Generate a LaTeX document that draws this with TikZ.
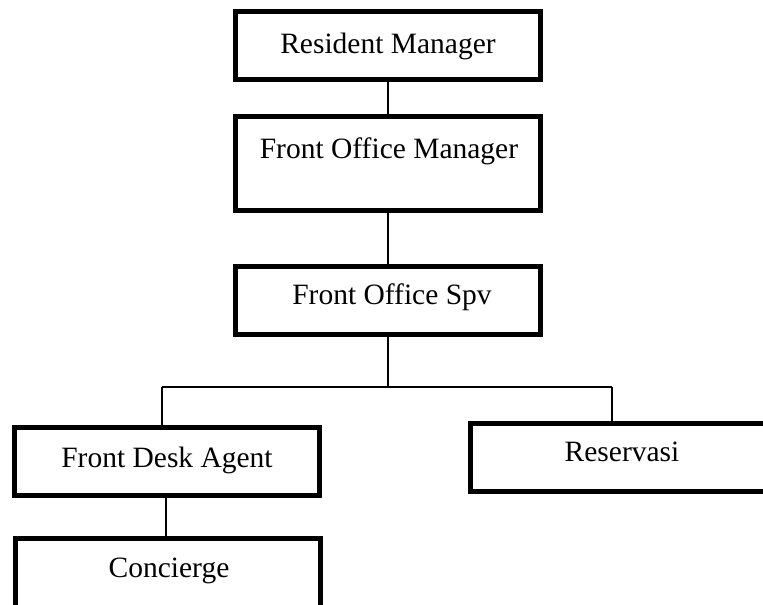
\documentclass[tikz,border=0pt]{standalone}
\usepackage{fontspec}
\setmainfont{Liberation Serif}
\begin{document}
\begin{tikzpicture}[x=1pt,y=-1pt,
  box/.style={draw,line width=5.5pt,minimum width=305pt,minimum height=68pt,inner sep=0pt},
  lbl/.style={inner sep=0pt,font=\fontsize{29.5}{35}\selectfont,anchor=base},
  conn/.style={line width=1.8pt}]
\useasboundingbox (0,0) rectangle (763,605);
\clip (0,0) rectangle (763,605);
% boxes
\node[box] (rm) at (388,45.5) {};
\node[box,minimum height=94pt] (fom) at (388,163.5) {};
\node[box] (fos) at (388,300.5) {};
\node[box] (fda) at (167,461.5) {};
\node[box,minimum height=74pt] (con) at (168,575.5) {};
\node[box] (res) at (623,457.5) {};
% labels
\node[lbl] (rmt) at (388,53) {Resident Manager};
\node[lbl] (fomt) at (389,158) {Front Office Manager};
\node[lbl] (fost) at (392,304) {Front Office Spv};
\node[lbl] (fdat) at (167,467) {Front Desk Agent};
\node[lbl] (cont) at (169,577) {Concierge};
\node[lbl] (rest) at (622,461) {Reservasi};
% connectors
\coordinate (hm) at (388,387);
\coordinate (hl) at (162,387);
\coordinate (hr) at (612,387);
\draw[conn] (rm) -- (fom);
\draw[conn] (fom) -- (fos);
\draw[conn] (fos) -- (hm);
\draw[conn] (hl) -- (hr);
\draw[conn] (hl) -- (hl |- fda.north);
\draw[conn] (hr) -- (hr |- res.north);
\draw[conn] (fda.south -| 166,0) -- (con.north -| 166,0);
\end{tikzpicture}
\end{document}
